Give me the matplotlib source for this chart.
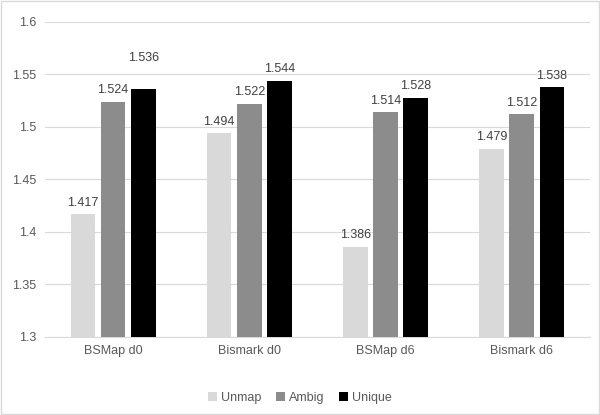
import matplotlib
matplotlib.use("Agg")
import matplotlib.pyplot as plt
import numpy as np

categories = ["BSMap d0", "Bismark d0", "BSMap d6", "Bismark d6"]
series = ["Unmap", "Ambig", "Unique"]
unmap = [1.417, 1.494, 1.386, 1.479]
ambig = [1.524, 1.522, 1.514, 1.512]
unique = [1.536, 1.544, 1.528, 1.538]
colors = ["#d9d9d9", "#8c8c8c", "#000000"]

plt.rcParams["font.family"] = ["Liberation Sans", "DejaVu Sans"]
text_color = "#595959"

fig = plt.figure(figsize=(6, 4.15), dpi=100)
ax = fig.add_axes([0.075, 0.188, 0.908, 0.759])

x = np.arange(len(categories))
width = 0.18
step = 0.222
for i, (name, vals) in enumerate(zip(series, [unmap, ambig, unique])):
    pos = x + (i - 1) * step
    ax.bar(pos, np.array(vals) - 1.3, width, bottom=1.3, color=colors[i],
           label=name, zorder=3)
    for j, (p, v) in enumerate(zip(pos, vals)):
        # the first Unique label sits higher in the original
        offset = 18 if (i == 2 and j == 0) else 4
        ax.annotate(f"{v:.3f}", (p, v), xytext=(0, offset),
                    textcoords="offset points", ha="center", va="bottom",
                    fontsize=9, color="#404040")

ax.set_ylim(1.3, 1.6)
ax.set_xlim(-0.5, len(categories) - 0.5)
ax.set_yticks(np.arange(1.3, 1.601, 0.05))
ax.set_yticklabels(["1.3", "1.35", "1.4", "1.45", "1.5", "1.55", "1.6"])
ax.set_xticks(x)
ax.set_xticklabels(categories)
ax.tick_params(length=0, labelsize=9, colors=text_color, pad=6)
ax.yaxis.grid(True, color="#d9d9d9", linewidth=0.8, zorder=0)
for s in ["top", "right", "left"]:
    ax.spines[s].set_visible(False)
ax.spines["bottom"].set_color("#d9d9d9")

fig.legend(loc="lower center", bbox_to_anchor=(0.5, 0.0), ncol=3,
           frameon=False, fontsize=9, handlelength=0.7, handleheight=0.7,
           handletextpad=0.3, columnspacing=1.2, labelcolor=text_color)

fig.patches.append(plt.Rectangle((0.002, 0.002), 0.996, 0.996, transform=fig.transFigure,
                                 fill=False, edgecolor="#d9d9d9", linewidth=1))

fig.savefig("out.png", dpi=100)
